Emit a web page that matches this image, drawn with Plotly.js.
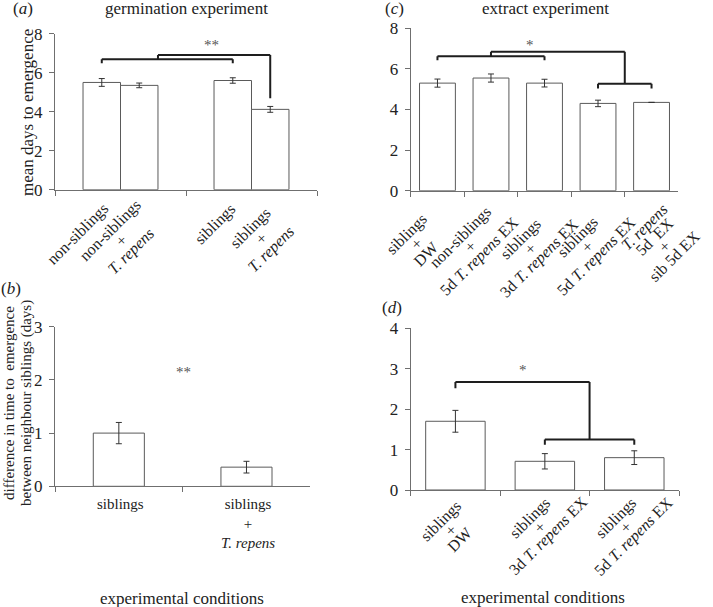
<!DOCTYPE html>
<html>
<head>
<meta charset="utf-8">
<script src="https://cdn.plot.ly/plotly-3.0.1.min.js"></script>
<style>html,body{margin:0;padding:0;background:#fff;}</style>
</head>
<body>
<div id="chart" style="width:713px;height:607px;"></div>
<script>
// ---------------- data ----------------
// (a) germination experiment
const aGroups = ["non-siblings", "siblings"];
const aAlone = [5.5, 5.6];
const aAloneErr = [0.2, 0.14];
const aRepens = [5.35, 4.12];
const aRepensErr = [0.12, 0.15];
const aTickLabels = [
  ["non-siblings"],
  ["non-siblings", "+", "<i>T. repens</i>"],
  ["siblings"],
  ["siblings", "+", "<i>T. repens</i>"]
];

// (b) difference in time to emergence
const bCats = ["siblings", "siblings + T. repens"];
const bVals = [1.0, 0.36];
const bErr = [0.2, 0.11];
const bTickLabels = ["siblings", "siblings<br>+<br><i>T. repens</i>"];

// (c) extract experiment
const cCats = ["siblings + DW", "non-siblings + 5d T. repens EX", "siblings + 3d T. repens EX",
               "siblings + 5d T. repens EX", "T. repens 5d EX + sib 5d EX"];
const cVals = [5.3, 5.55, 5.3, 4.3, 4.35];
const cErr = [0.2, 0.2, 0.19, 0.16, null];
const cTickLabels = [
  ["siblings", "+", "DW"],
  ["non-siblings", "+", "5d <i>T. repens</i> EX"],
  ["siblings", "+", "3d <i>T. repens</i> EX"],
  ["siblings", "+", "5d <i>T. repens</i> EX"],
  ["<i>T. repens</i>", "5d  EX", "+", "sib 5d EX"]
];

// (d) difference in time to emergence, extract
const dCats = ["siblings + DW", "siblings + 3d T. repens EX", "siblings + 5d T. repens EX"];
const dVals = [1.7, 0.71, 0.8];
const dErr = [0.27, 0.19, 0.17];
const dTickLabels = [
  ["siblings", "+", "DW"],
  ["siblings", "+", "3d <i>T. repens</i> EX"],
  ["siblings", "+", "5d <i>T. repens</i> EX"]
];

// ---------------- styling / geometry ----------------
const FONT = '"Liberation Serif", serif';
const W = 713, H = 607;
const px = v => v / W;
const py = v => 1 - v / H;
const AXC = "#6f6f6f";
const BAR_LINE = "#5a5a5a";
const ERR_C = "#333";
const BRK = "#1e1e1e";

const G = {
  a: {l: 55, r: 317, b: 189.7, t: 33.7, n: 2},
  c: {l: 410.7, r: 678.3, b: 190.7, t: 28.3, n: 5},
  b: {l: 55, r: 310.3, b: 486.3, t: 326.7, n: 2},
  d: {l: 410.7, r: 679, b: 490, t: 328.3, n: 3}
};

function xAxis(g, anchor, cats) {
  return {
    domain: [px(g.l), px(g.r)], anchor: anchor, type: "category",
    categoryorder: "array", categoryarray: cats,
    range: [-0.5, g.n - 0.5], fixedrange: true,
    showline: true, linecolor: AXC, linewidth: 1,
    ticks: "outside", ticklen: 5, tickcolor: AXC, tickwidth: 1, tickson: "boundaries",
    showgrid: false, zeroline: false, showticklabels: false
  };
}
function yAxis(g, anchor, max, dtick) {
  return {
    domain: [py(g.b), py(g.t)], anchor: anchor, range: [0, max], dtick: dtick, tick0: 0,
    fixedrange: true, showline: true, linecolor: AXC, linewidth: 1,
    ticks: "outside", ticklen: 5, tickcolor: AXC, tickwidth: 1,
    showgrid: false, zeroline: false, ticklabelstandoff: 3,
    tickfont: {family: FONT, size: 17, color: "#222"}
  };
}

const BW_A = 0.286, BW_B = 0.4, BW_C = 0.67, BW_D = 0.665;

function barTrace(x, y, err, xa, ya, width, offset) {
  const t = {
    type: "bar", x: x, y: y, xaxis: xa, yaxis: ya, width: width,
    marker: {color: "#ffffff", line: {color: BAR_LINE, width: 1}},
    error_y: {type: "data", array: err, visible: true, color: ERR_C, thickness: 1, width: 3},
    showlegend: false, hoverinfo: "skip"
  };
  if (offset !== undefined) t.offset = offset;
  return t;
}

const data = [
  barTrace(aGroups, aAlone, aAloneErr, "x", "y", BW_A, -BW_A),
  barTrace(aGroups, aRepens, aRepensErr, "x", "y", BW_A, 0),
  barTrace(cCats, cVals, cErr, "x2", "y2", BW_C),
  barTrace(bCats, bVals, bErr, "x3", "y3", BW_B),
  barTrace(dCats, dVals, dErr, "x4", "y4", BW_D)
];

// ---------------- shapes: significance brackets ----------------
const shapes = [];
function seg(xr, yr, x0, y0, x1, y1) {
  shapes.push({type: "line", xref: xr, yref: yr, x0: x0, y0: y0, x1: x1, y1: y1,
               line: {color: BRK, width: 2}});
}
// (a)
(function () {
  const x1 = -BW_A / 2, x3 = 1 - BW_A / 2, xr = BW_A, x4 = 1 + BW_A / 2;
  const yL = 6.69, yLt = 6.48, yT = 6.91, yE = 4.69;
  seg("x", "y", x1, yLt, x1, yL); seg("x", "y", x1, yL, x3, yL); seg("x", "y", x3, yL, x3, yLt);
  seg("x", "y", xr, yL, xr, yT); seg("x", "y", xr, yT, x4, yT); seg("x", "y", x4, yT, x4, yE);
})();
// (c)
(function () {
  const yL = 6.62, yLt = 6.42, yT = 6.85, yR = 5.27, yRt = 5.04;
  seg("x2", "y2", 0, yLt, 0, yL); seg("x2", "y2", 0, yL, 2, yL); seg("x2", "y2", 2, yL, 2, yLt);
  seg("x2", "y2", 1, yL, 1, yT); seg("x2", "y2", 1, yT, 3.5, yT); seg("x2", "y2", 3.5, yT, 3.5, yR);
  seg("x2", "y2", 3, yRt, 3, yR); seg("x2", "y2", 3, yR, 4, yR); seg("x2", "y2", 4, yR, 4, yRt);
})();
// (d)
(function () {
  const yT = 2.67, yTt = 2.52, yR = 1.25, yRt = 1.12;
  seg("x4", "y4", 0, yTt, 0, yT); seg("x4", "y4", 0, yT, 1.5, yT); seg("x4", "y4", 1.5, yT, 1.5, yR);
  seg("x4", "y4", 1, yRt, 1, yR); seg("x4", "y4", 1, yR, 2, yR); seg("x4", "y4", 2, yR, 2, yRt);
})();

// ---------------- annotations ----------------
const ann = [];
function txt(text, x, y, size, opts) {
  ann.push(Object.assign({
    text: text, x: x, y: y, xref: "paper", yref: "paper", showarrow: false,
    xanchor: "center", yanchor: "middle", font: {family: FONT, size: size, color: "#222"}
  }, opts || {}));
}
// titles and panel letters
txt("(<i>a</i>)", px(22.5), py(9), 17);
txt("germination experiment", px(186.5), py(9), 17);
txt("(<i>c</i>)", px(395), py(9), 17);
txt("extract experiment", px(545), py(9), 17);
txt("(<i>b</i>)", px(11), py(288), 17);
txt("(<i>d</i>)", px(392), py(307), 17);
txt("experimental conditions", px(182), py(598), 17);
txt("experimental conditions", px(542.5), py(597.7), 17);
// y-axis titles
txt("mean days to emergence", px(27), py(113), 17, {textangle: -90});
txt("difference in time to\u00a0 emergence", px(9), py(403), 15, {textangle: -90});
txt("between neighbour siblings (days)", px(26), py(403), 15, {textangle: -90});
// significance stars
function star(text, xr, yr, x, y) {
  ann.push({text: text, x: x, y: y, xref: xr, yref: yr, showarrow: false,
            xanchor: "center", yanchor: "middle", font: {family: FONT, size: 15, color: "#555"}});
}
star("**", "x", "y", 0.696, 7.42);
star("*", "x2", "y2", 1.73, 7.18);
star("**", "x3", "y3", 0.51, 2.14);
star("*", "x4", "y4", 0.752, 2.97);

// rotated multi-line category labels (one annotation per line, centred block)
const FS = 16, C45 = Math.SQRT1_2;
function rotLabels(xref, axisPx, centers, labels, offs, ls) {
  labels.forEach((lines, i) => {
    const n = lines.length;
    lines.forEach((line, k) => {
      const s = (k - (n - 1) / 2) * ls;
      const dx = offs[i][0] + s * C45, dy = offs[i][1] + s * C45;
      ann.push({text: line, x: centers[i], y: py(axisPx), xref: xref, yref: "paper",
                xshift: dx, yshift: -dy, textangle: -45, showarrow: false,
                xanchor: "center", yanchor: "middle",
                font: {family: FONT, size: FS, color: "#222"}});
    });
  });
}
const aCenters = [-BW_A / 2, BW_A / 2, 1 - BW_A / 2, 1 + BW_A / 2];
rotLabels("x", G.a.b, aCenters, aTickLabels, [[-24, 44], [-18, 51], [-17.5, 34], [-9, 49]], 14.5);
rotLabels("x2", G.c.b, cCats.map((c, i) => i), cTickLabels,
          [[-20.7, 53], [-20.5, 56], [-14, 58], [-10.5, 56], [8, 51]], 13.5);
rotLabels("x4", G.d.b, dCats.map((c, i) => i), dTickLabels, [[-5, 40], [-5.5, 37], [-9, 37]], 13);
// (b) horizontal labels
bTickLabels.forEach((lab, i) => {
  ann.push({text: lab, x: i, y: py(G.b.b), xref: "x3", yref: "paper",
            xshift: 1.5, yshift: -8, showarrow: false,
            xanchor: "center", yanchor: "top",
            font: {family: FONT, size: 15, color: "#222"}});
});

const layout = {
  width: W, height: H, margin: {l: 0, r: 0, t: 0, b: 0},
  paper_bgcolor: "#fff", plot_bgcolor: "rgba(0,0,0,0)",
  barmode: "group", showlegend: false,
  font: {family: FONT, color: "#222"},
  xaxis: xAxis(G.a, "y", aGroups), yaxis: yAxis(G.a, "x", 8, 2),
  xaxis2: xAxis(G.c, "y2", cCats), yaxis2: yAxis(G.c, "x2", 8, 2),
  xaxis3: xAxis(G.b, "y3", bCats), yaxis3: yAxis(G.b, "x3", 3, 1),
  xaxis4: xAxis(G.d, "y4", dCats), yaxis4: yAxis(G.d, "x4", 4, 1),
  shapes: shapes, annotations: ann
};

Plotly.newPlot("chart", data, layout, {staticPlot: true, displayModeBar: false});
</script>
</body>
</html>
